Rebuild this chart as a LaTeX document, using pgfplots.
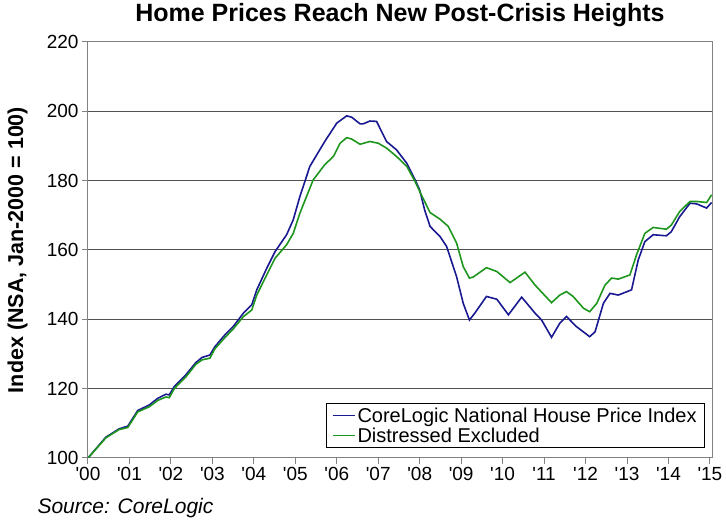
\documentclass[border=0pt]{standalone}
\usepackage{fontspec}
\setmainfont{Liberation Sans}
\usepackage{pgfplots}
\pgfplotsset{compat=1.18}
\definecolor{cblue}{RGB}{25,25,145}
\definecolor{cgreen}{RGB}{30,150,30}
\definecolor{gridc}{RGB}{80,80,80}
\definecolor{axc}{RGB}{130,130,130}
\begin{document}
\begin{tikzpicture}[x=1pt,y=1pt]
\path[use as bounding box] (0,0) rectangle (726,521);
\begin{axis}[
  at={(88pt,63pt)}, anchor=south west,
  scale only axis, width=624pt, height=416pt,
  xmin=0, xmax=15.05, ymin=100, ymax=220,
  xtick={0,1,...,15},
  xticklabels={\textquotesingle00,\textquotesingle01,\textquotesingle02,\textquotesingle03,\textquotesingle04,\textquotesingle05,\textquotesingle06,\textquotesingle07,\textquotesingle08,\textquotesingle09,\textquotesingle10,\textquotesingle11,\textquotesingle12,\textquotesingle13,\textquotesingle14,\textquotesingle15},
  ytick={100,120,...,220},
  ymajorgrids, grid style={gridc, line width=1pt},
  axis line style={axc, line width=1pt},
  tick style={axc, line width=1pt},
  tick align=outside, major tick length=6pt,
  xtick pos=left, ytick pos=left,
  tick label style={font=\fontsize{19}{22}\selectfont},
  yticklabel style={/pgf/number format/assume math mode=true},
  title={Home Prices Reach New Post-Crisis Heights},
  title style={at={(0.5,1)}, anchor=base, yshift=14pt, font=\bfseries\fontsize{25}{29}\selectfont},
  ylabel={Index (NSA, Jan-2000 = 100)},
  ylabel style={at={(axis description cs:-0.113,0.5)}, anchor=center, font=\bfseries\fontsize{21.5}{25}\selectfont},
  legend style={at={(1,0)}, anchor=south east, xshift=-7pt, yshift=10pt, draw=black, line width=0.8pt, font=\fontsize{20}{23}\selectfont, row sep=0pt, inner xsep=6pt},
  legend cell align=left,
  legend image code/.code={\draw[#1, line width=1.5pt] (0pt,0pt) -- (22pt,0pt);},
]
\addplot[cblue, line width=1.6pt] coordinates {
(0,100) (0.43,106.0) (0.75,108.4) (0.96,109.2) (1.2,113.7) (1.48,115.3) (1.68,117.2) (1.88,118.4) (1.96,118.2) (2.08,120.6) (2.36,124.0) (2.6,127.5) (2.75,129.0) (2.94,129.7) (3.06,132.1) (3.30,135.5) (3.50,137.9) (3.75,141.8) (3.95,144.2) (4.07,148.5) (4.31,154.7) (4.51,159.5) (4.79,164.4) (4.95,168.7) (5.11,175.4) (5.35,184.1) (5.71,191.3) (6.0,196.6) (6.24,198.7) (6.36,198.3) (6.56,196.4) (6.64,196.4) (6.80,197.2) (6.96,197.1) (7.20,191.3) (7.44,188.9) (7.69,185.0) (7.89,180.2) (8.0,177.3) (8.12,171.5) (8.25,166.8) (8.49,163.9) (8.65,161.0) (8.89,152.3) (9.05,144.6) (9.20,139.8) (9.33,141.8) (9.61,146.6) (9.86,145.8) (10.14,141.3) (10.46,146.4) (10.78,141.8) (10.94,139.8) (11.18,134.8) (11.38,138.9) (11.54,140.8) (11.78,137.9) (12.10,135.0) (12.23,136.4) (12.43,144.6) (12.59,147.5) (12.79,147.0) (13.11,148.5) (13.27,157.1) (13.43,162.4) (13.63,164.4) (13.95,164.1) (14.07,165.3) (14.27,169.6) (14.52,173.5) (14.68,173.3) (14.92,172.1) (15.04,173.7)
};
\addlegendentry{CoreLogic National House Price Index}
\addplot[cgreen, line width=1.6pt] coordinates {
(0,100) (0.43,105.8) (0.75,108.2) (0.96,108.8) (1.2,113.3) (1.48,114.8) (1.68,116.6) (1.88,117.6) (1.96,117.4) (2.08,120.0) (2.36,123.4) (2.6,127.0) (2.75,128.3) (2.94,128.8) (3.06,131.5) (3.30,134.7) (3.50,137.2) (3.75,140.8) (3.95,142.7) (4.07,147.0) (4.31,152.8) (4.51,157.6) (4.79,161.5) (4.95,164.8) (5.11,170.6) (5.43,180.2) (5.71,184.6) (5.92,187.0) (6.08,190.8) (6.24,192.4) (6.36,192.0) (6.56,190.5) (6.80,191.3) (7.0,190.8) (7.20,189.4) (7.44,187.0) (7.69,184.1) (7.89,179.7) (8.0,176.9) (8.25,170.8) (8.49,168.9) (8.69,166.8) (8.89,162.0) (9.05,155.2) (9.20,151.9) (9.29,152.2) (9.61,154.9) (9.86,153.8) (10.18,150.6) (10.54,153.6) (10.78,149.9) (11.18,144.8) (11.38,147.0) (11.54,148.0) (11.70,146.6) (11.95,143.2) (12.10,142.2) (12.27,144.6) (12.47,149.9) (12.63,151.9) (12.79,151.6) (13.07,152.8) (13.23,158.6) (13.43,164.8) (13.63,166.5) (13.95,166.0) (14.07,167.2) (14.27,171.1) (14.52,174.0) (14.68,174.0) (14.92,173.7) (15.04,175.9)
};
\addlegendentry{Distressed Excluded}
\end{axis}
\node[anchor=base west, font=\itshape\fontsize{21}{24}\selectfont] at (34,7) {Source: CoreLogic};
\end{tikzpicture}
\end{document}
